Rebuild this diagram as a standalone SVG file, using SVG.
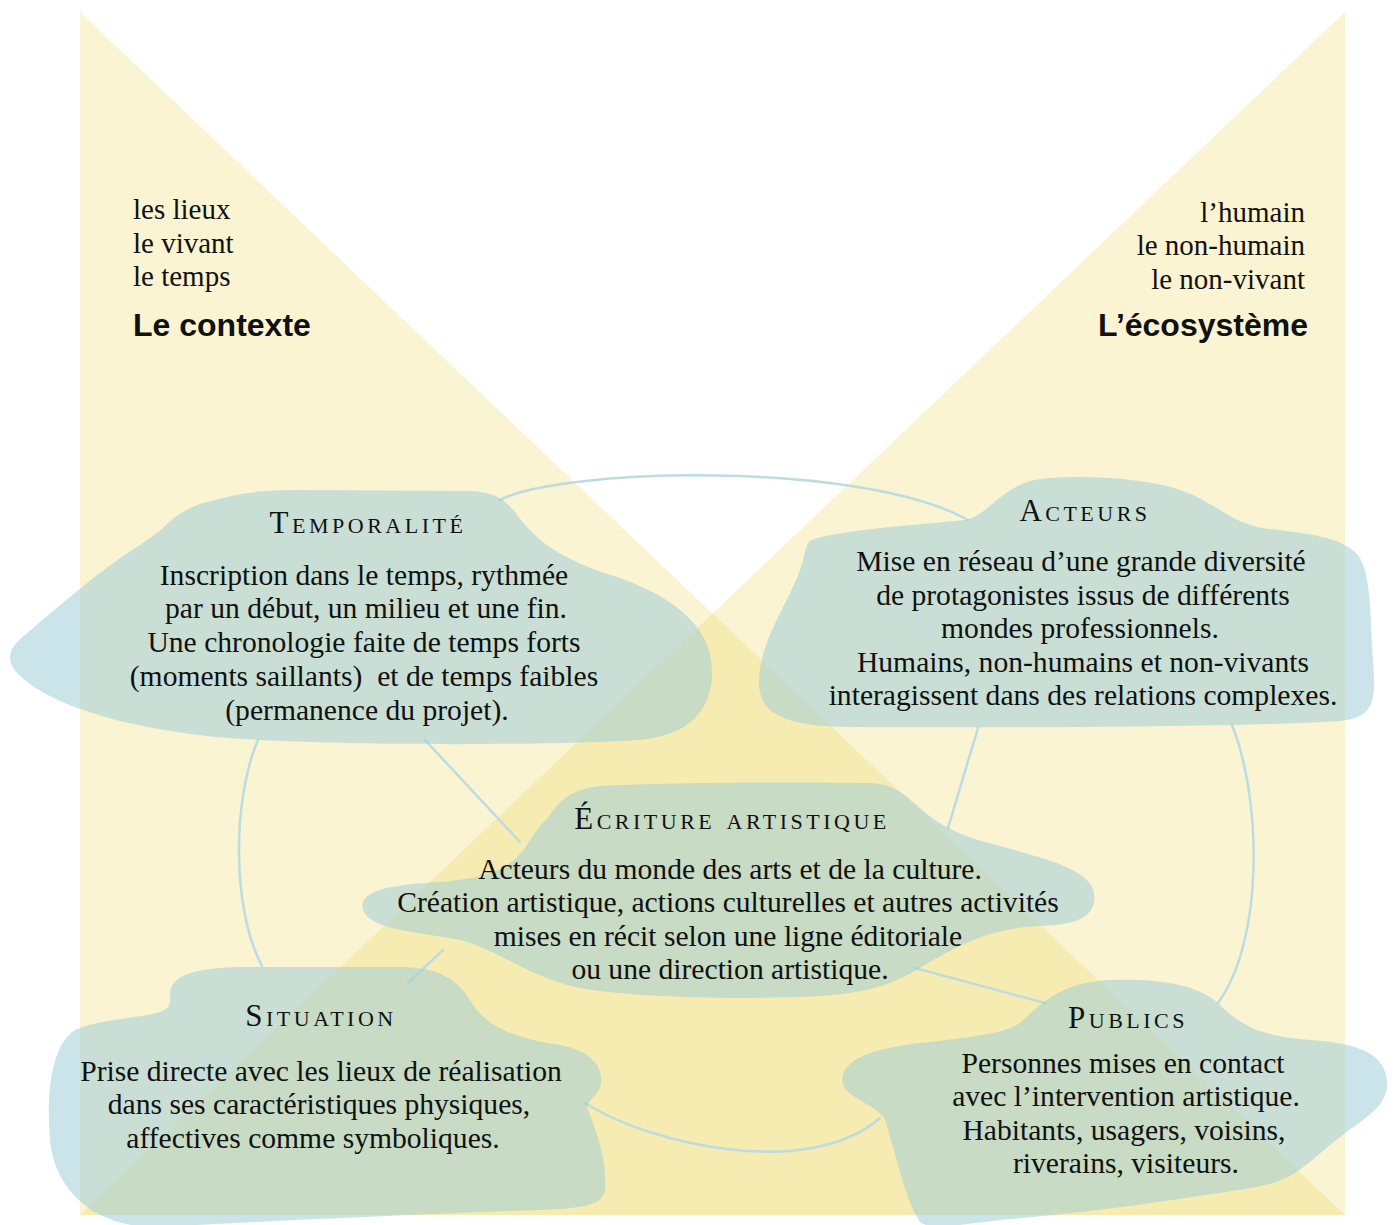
<svg xmlns="http://www.w3.org/2000/svg" width="1395" height="1225" viewBox="0 0 1395 1225">
<style>
.tri{fill:rgb(231,201,40);fill-opacity:0.205}
.blob{fill:rgb(160,205,215);fill-opacity:0.55}
.con{fill:none;stroke:#bcdbe3;stroke-width:2.5;stroke-linecap:round}
.t{font-family:"Liberation Serif",serif;font-size:31px;font-variant:small-caps;letter-spacing:3.5px;text-anchor:middle;fill:#111}
.b{font-family:"Liberation Serif",serif;font-size:29.6px;text-anchor:middle;fill:#111}
.c{font-family:"Liberation Serif",serif;font-size:29px;fill:#111}
.h{font-family:"Liberation Sans",sans-serif;font-size:32px;font-weight:bold;fill:#111}
</style>
<rect width="1395" height="1225" fill="#fff"/>
<g id="background">
<polygon class="tri" points="80,12 80,1215 1345,1215"/>
<polygon class="tri" points="1345,12 1345,1215 80,1215"/>
</g>
<g id="connectors">
<path class="con" d="M500,500 C560,468 860,460 968,520"/>
<path class="con" d="M258,740 C232,800 232,910 262,966"/>
<path class="con" d="M1232,725 C1262,800 1264,940 1218,1003"/>
<path class="con" d="M585,1103 C650,1145 810,1180 880,1118"/>
<path class="con" d="M425,740 L520,842"/>
<path class="con" d="M978,728 L948,828"/>
<path class="con" d="M443,950 L408,983"/>
<path class="con" d="M915,968 L1045,1003"/>
</g>
<g id="contexte">
<text class="c" x="133" y="219">les lieux</text>
<text class="c" x="133" y="253">le vivant</text>
<text class="c" x="133" y="286">le temps</text>
<text class="h" x="133" y="336">Le contexte</text>
</g>
<g id="ecosysteme">
<text class="c" x="1305" y="222" text-anchor="end">l’humain</text>
<text class="c" x="1305" y="255" text-anchor="end">le non-humain</text>
<text class="c" x="1305" y="289" text-anchor="end">le non-vivant</text>
<text class="h" x="1308" y="336" text-anchor="end">L’écosystème</text>
</g>
<g id="temporalite">
<path class="blob" d="M161,530 C175,515 190,505 215,500 C240,493 260,490 300,490 L470,491 C495,492 505,500 515,512 C535,540 560,560 620,578 C680,600 712,630 712,672 C712,710 690,735 640,740 C560,745 380,746 260,740 C150,735 60,710 25,680 C5,665 5,650 25,635 C60,605 100,570 140,545 C150,538 155,534 161,530 Z"/>
<text class="t" x="368" y="533">Temporalité</text>
<text class="b" x="364" y="585">Inscription dans le temps, rythmée</text>
<text class="b" x="366" y="618">par un début, un milieu et une fin.</text>
<text class="b" x="364" y="652">Une chronologie faite de temps forts</text>
<text class="b" x="364" y="686" xml:space="preserve">(moments saillants)  et de temps faibles</text>
<text class="b" x="367" y="720">(permanence du projet).</text>
</g>
<g id="acteurs">
<path class="blob" d="M811,540 C850,528 930,524 965,520 C985,517 1000,490 1030,481 C1060,474 1140,476 1180,490 C1215,502 1230,522 1262,528 C1300,533 1340,535 1358,555 C1372,575 1370,620 1373,660 C1376,700 1375,718 1340,721 C1250,727 1000,728 850,727 C780,726 758,712 759,680 C760,640 790,600 800,570 C806,552 805,545 811,540 Z"/>
<text class="t" x="1085" y="521">Acteurs</text>
<text class="b" x="1081" y="571">Mise en réseau d’une grande diversité</text>
<text class="b" x="1083" y="605">de protagonistes issus de différents</text>
<text class="b" x="1080" y="638">mondes professionnels.</text>
<text class="b" x="1083" y="672">Humains, non-humains et non-vivants</text>
<text class="b" x="1083" y="705">interagissent dans des relations complexes.</text>
</g>
<g id="ecriture">
<path class="blob" d="M548,818 C560,800 570,790 600,786 C680,782 800,782 870,783 C895,784 905,795 920,808 C940,826 960,836 1000,846 C1050,860 1090,870 1094,893 C1097,915 1080,925 1040,926 C990,928 960,945 930,962 C900,980 880,992 820,996 C740,1000 640,998 580,988 C530,978 500,950 460,940 C420,932 370,930 363,910 C358,890 390,885 440,882 C490,878 510,868 525,848 C535,832 540,825 548,818 Z"/>
<text class="t" x="732" y="829">Écriture artistique</text>
<text class="b" x="730" y="879">Acteurs du monde des arts et de la culture.</text>
<text class="b" x="728" y="912">Création artistique, actions culturelles et autres activités</text>
<text class="b" x="728" y="946">mises en récit selon une ligne éditoriale</text>
<text class="b" x="730" y="979">ou une direction artistique.</text>
</g>
<g id="situation">
<path class="blob" d="M170,995 C170,975 195,968 240,967 L400,967 C440,968 455,978 470,1000 C485,1025 510,1038 560,1045 C595,1052 605,1070 600,1088 C596,1098 585,1100 588,1110 C600,1140 607,1165 605,1190 C602,1205 585,1208 540,1210 C420,1214 250,1222 160,1227 C100,1229 55,1195 50,1140 C46,1090 52,1045 75,1030 C95,1020 140,1018 160,1012 C172,1008 170,1000 170,995 Z"/>
<text class="t" x="321" y="1026">Situation</text>
<text class="b" x="321" y="1081">Prise directe avec les lieux de réalisation</text>
<text class="b" x="319" y="1114">dans ses caractéristiques physiques,</text>
<text class="b" x="313" y="1148">affectives comme symboliques.</text>
</g>
<g id="publics">
<path class="blob" d="M1020,1023 C1040,1005 1060,982 1110,980 C1160,978 1200,985 1220,1005 C1240,1025 1260,1036 1310,1040 C1360,1043 1388,1055 1387,1085 C1386,1110 1360,1120 1330,1145 C1300,1170 1290,1182 1250,1188 C1200,1196 1100,1212 1000,1220 C960,1225 930,1230 920,1222 C905,1200 895,1150 885,1120 C878,1105 850,1100 843,1085 C838,1060 870,1048 930,1042 C980,1036 1005,1033 1020,1023 Z"/>
<text class="t" x="1128" y="1028">Publics</text>
<text class="b" x="1123" y="1073">Personnes mises en contact</text>
<text class="b" x="1126" y="1106">avec l’intervention artistique.</text>
<text class="b" x="1124" y="1140">Habitants, usagers, voisins,</text>
<text class="b" x="1126" y="1173">riverains, visiteurs.</text>
</g>
</svg>
